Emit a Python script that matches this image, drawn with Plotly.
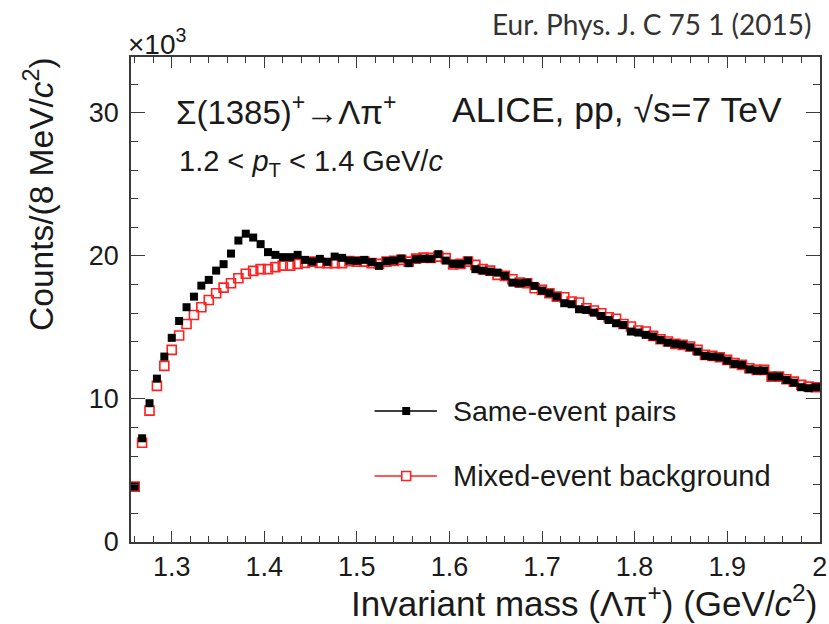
import plotly.graph_objects as go

# Invariant-mass spectrum of Lambda-pi+ pairs, 8 MeV/c^2 bins, counts in units of 10^3
bin_lo = 1.256
bin_width = 0.008

same_event = [
    3.87, 7.25, 9.70, 11.42, 12.96, 14.27, 15.45, 16.41, 17.15, 17.92,
    18.32, 18.97, 19.42, 20.16, 21.07, 21.55, 21.28, 20.82, 20.26, 20.07,
    19.91, 19.91, 20.07, 19.72, 19.60, 19.79, 19.58, 19.95, 19.86, 19.67,
    19.65, 19.72, 19.56, 19.30, 19.63, 19.67, 19.81, 19.49, 19.77, 19.81,
    19.80, 20.12, 19.67, 19.44, 19.44, 19.67, 19.07, 18.97, 18.90, 18.83,
    18.60, 18.13, 18.09, 18.13, 17.90, 17.57, 17.39, 17.15, 16.69, 16.62,
    16.27, 16.22, 16.03, 15.80, 15.52, 15.29, 15.17, 14.71, 14.64, 14.48,
    14.36, 14.13, 13.94, 13.85, 13.78, 13.61, 13.31, 13.01, 12.96, 12.91,
    12.68, 12.45, 12.38, 12.07, 11.98, 11.98, 11.56, 11.56, 11.33, 11.14,
    10.82, 10.75, 10.82,
]

mixed_event = [
    3.87, 6.94, 9.18, 10.91, 12.31, 13.43, 14.43, 15.24, 15.87, 16.41,
    16.92, 17.39, 17.78, 18.09, 18.44, 18.75, 18.95, 19.07, 19.07, 19.21,
    19.32, 19.32, 19.44, 19.51, 19.60, 19.51, 19.49, 19.49, 19.49, 19.63,
    19.60, 19.60, 19.49, 19.44, 19.60, 19.65, 19.72, 19.60, 19.81, 19.88,
    19.86, 19.95, 19.84, 19.40, 19.44, 19.60, 19.37, 19.07, 18.97, 18.67,
    18.60, 18.37, 18.13, 18.09, 17.74, 17.62, 17.39, 17.15, 17.11, 16.81,
    16.74, 16.34, 16.18, 15.99, 15.71, 15.60, 15.24, 15.06, 14.78, 14.71,
    14.41, 14.17, 14.01, 13.85, 13.78, 13.66, 13.43, 13.08, 13.01, 12.91,
    12.73, 12.50, 12.38, 12.14, 12.03, 12.03, 11.56, 11.56, 11.38, 11.21,
    10.98, 10.86, 10.82,
]

mass = [round(bin_lo + bin_width * (i + 0.5), 4) for i in range(len(same_event))]

x_tick_vals = [1.3, 1.4, 1.5, 1.6, 1.7, 1.8, 1.9, 2.0]
x_tick_text = ["1.3", "1.4", "1.5", "1.6", "1.7", "1.8", "1.9", "2"]
y_tick_vals = [0, 10, 20, 30]
y_tick_text = ["0", "10", "20", "30"]

legend_labels = ["Same-event pairs", "Mixed-event background"]

W, H = 829, 624
M_L, M_R, M_T, M_B = 131, 2, 57, 82
PW, PH = W - M_L - M_R, H - M_T - M_B

FONT = "Liberation Sans, Arial, Helvetica, sans-serif"
INK = "#1a1a1a"
AXIS = "#3a3a3a"
RED = "#ff2020"


def px(x):
    return (x - M_L) / PW


def py(y):
    return (H - M_B - y) / PH


fig = go.Figure()

fig.add_trace(go.Scatter(
    x=mass, y=mixed_event, mode="markers", name=legend_labels[1],
    marker=dict(symbol="square-open", size=9, color=RED, line=dict(width=1.6, color=RED)),
    showlegend=False,
))
fig.add_trace(go.Scatter(
    x=mass, y=same_event, mode="markers", name=legend_labels[0],
    marker=dict(symbol="square", size=8, color="black", line=dict(width=0)),
    showlegend=False,
))

axis_common = dict(
    showgrid=False, zeroline=False, showline=True, linecolor=AXIS, linewidth=1.6,
    mirror="allticks", ticks="inside", tickcolor=AXIS, tickwidth=1.3,
    tickfont=dict(family=FONT, size=27, color=INK), ticklabeloverflow="allow",
)

fig.update_xaxes(
    range=[bin_lo, 2.0003], tickvals=x_tick_vals, ticktext=x_tick_text, ticklen=11,
    ticklabelstandoff=0,
    minor=dict(dtick=0.02, tick0=1.3, ticks="inside", ticklen=6, tickcolor=AXIS, tickwidth=1.2),
    **axis_common,
)
fig.update_yaxes(
    range=[0, 33.9], tickvals=y_tick_vals, ticktext=y_tick_text, ticklen=14,
    ticklabelstandoff=5,
    minor=dict(dtick=2, tick0=0, ticks="inside", ticklen=7, tickcolor=AXIS, tickwidth=1.2),
    **axis_common,
)

annotations = [
    dict(text="×10<sup>3</sup>", x=px(126), y=py(42), xanchor="left", yanchor="middle",
         font=dict(family=FONT, size=28, color=INK)),
    dict(text="Σ(1385)<sup>+</sup>→Λπ<sup>+</sup>", x=px(174), y=py(110), xanchor="left",
         yanchor="middle", font=dict(family=FONT, size=33, color=INK)),
    dict(text="ALICE, pp, √s=7 TeV", x=px(791), y=py(110), xanchor="right", yanchor="middle",
         font=dict(family=FONT, size=35.5, color=INK)),
    dict(text="1.2 < <i>p</i><sub>T</sub> < 1.4 GeV/<i>c</i>", x=px(177), y=py(163),
         xanchor="left", yanchor="middle", font=dict(family=FONT, size=29, color=INK)),
    dict(text="Eur. Phys. J. C 75 1 (2015)", x=px(821), y=py(24), xanchor="right",
         yanchor="middle", font=dict(family="Lato, Open Sans, sans-serif", size=28, color="#333333")),
    dict(text="Invariant mass (Λπ<sup>+</sup>) (GeV/<i>c</i><sup>2</sup>)", x=px(826), y=py(601),
         xanchor="right", yanchor="middle", font=dict(family=FONT, size=35, color=INK)),
    dict(text="Counts/(8 MeV/<i>c</i><sup>2</sup>)", x=px(38), y=py(55), xanchor="center",
         yanchor="top", textangle=-90, font=dict(family=FONT, size=33.5, color=INK)),
    dict(text=legend_labels[0], x=px(454), y=py(411), xanchor="left", yanchor="middle",
         font=dict(family=FONT, size=28.5, color=INK)),
    dict(text=legend_labels[1], x=px(454), y=py(476), xanchor="left", yanchor="middle",
         font=dict(family=FONT, size=29, color=INK)),
]
for a in annotations:
    a.update(xref="paper", yref="paper", showarrow=False)

# legend samples: line with a marker in the middle
shapes = [
    dict(type="line", x0=px(377), x1=px(440), y0=py(411), y1=py(411), line=dict(color="black", width=1.4)),
    dict(type="rect", x0=px(405), x1=px(413), y0=py(407), y1=py(415), fillcolor="black",
         line=dict(color="black", width=0)),
    dict(type="line", x0=px(377), x1=px(440), y0=py(476), y1=py(476), line=dict(color=RED, width=1.4)),
    dict(type="rect", x0=px(404.5), x1=px(413.5), y0=py(471.5), y1=py(480.5), fillcolor="white",
         line=dict(color=RED, width=1.6)),
]
for s in shapes:
    s.update(xref="paper", yref="paper")

fig.update_layout(
    width=W, height=H, margin=dict(l=M_L, r=M_R, t=M_T, b=M_B),
    paper_bgcolor="white", plot_bgcolor="white",
    annotations=annotations, shapes=shapes, showlegend=False,
)

fig.write_html("out.html")
